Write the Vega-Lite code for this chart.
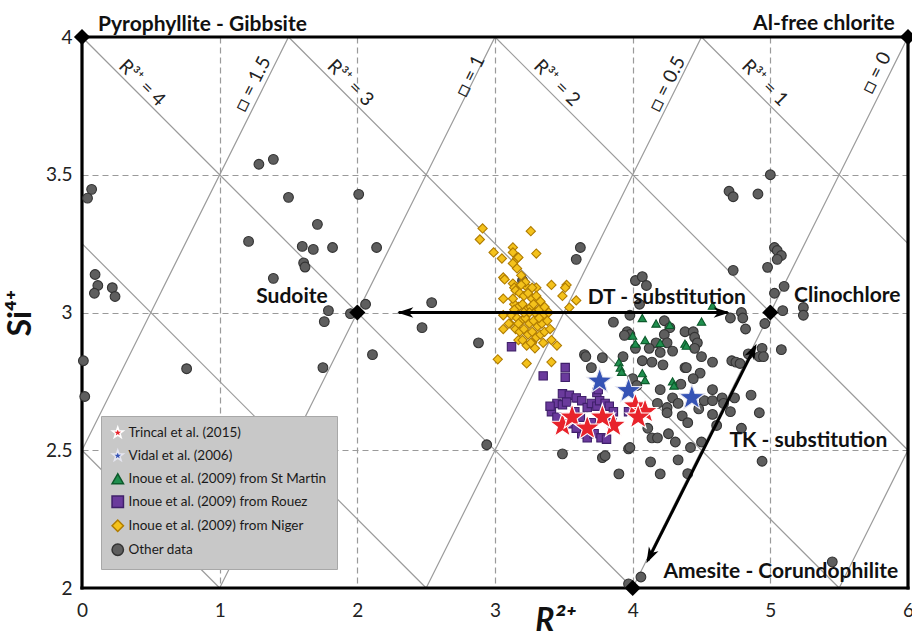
{
  "$schema": "https://vega.github.io/schema/vega-lite/v6.json",
  "width": 826,
  "height": 551,
  "autosize": {"type": "none"},
  "padding": {"left": 82, "top": 37, "right": 4, "bottom": 48},
  "background": "white",
  "config": {"view": {"stroke": null}, "font": "Lato"},
  "datasets": {
    "frame": [
      {"x": 0, "y": 4, "x2": 6, "y2": 4},
      {"x": 0, "y": 2, "x2": 6, "y2": 2},
      {"x": 0, "y": 2, "x2": 0, "y2": 4},
      {"x": 6, "y": 2, "x2": 6, "y2": 4}
    ],
    "diag": [
      {"x": 4.5, "y": 4, "x2": 6, "y2": 3.25},
      {"x": 3, "y": 4, "x2": 6, "y2": 2.5},
      {"x": 1.5, "y": 4, "x2": 5.5, "y2": 2},
      {"x": 0, "y": 4, "x2": 4, "y2": 2},
      {"x": 0, "y": 3.25, "x2": 2.5, "y2": 2},
      {"x": 0, "y": 2.5, "x2": 1, "y2": 2},
      {"x": 4, "y": 2, "x2": 6, "y2": 4},
      {"x": 2.5, "y": 2, "x2": 4.5, "y2": 4},
      {"x": 1, "y": 2, "x2": 3, "y2": 4},
      {"x": 0, "y": 2.5, "x2": 1.5, "y2": 4},
      {"x": 5.5, "y": 2, "x2": 6, "y2": 2.5}
    ],
    "arrows": [
      {"x": 2.3, "y": 3.0, "x2": 4.69, "y2": 3.0},
      {"x": 4.11, "y": 2.1, "x2": 4.89, "y2": 2.877}
    ],
    "heads": [
      {"x": 2.29, "y": 3.0, "dir": 270},
      {"x": 4.705, "y": 3.0, "dir": 90},
      {"x": 4.9, "y": 2.887, "dir": 26.7},
      {"x": 4.1, "y": 2.09, "dir": 206.7}
    ],
    "ends": [
      {"x": 0, "y": 4}, {"x": 6, "y": 4}, {"x": 2, "y": 3}, {"x": 5, "y": 3}, {"x": 4, "y": 2}
    ],
    "names": [
      {"t": "Pyrophyllite - Gibbsite", "x": 0.875, "y": 4.022},
      {"t": "Al-free chlorite", "x": 5.389, "y": 4.025},
      {"t": "Sudoite", "x": 1.525, "y": 3.034},
      {"t": "Clinochlore", "x": 5.559, "y": 3.038},
      {"t": "Amesite - Corundophilite", "x": 5.076, "y": 2.036},
      {"t": "DT - substitution", "x": 4.248, "y": 3.03},
      {"t": "TK - substitution", "x": 5.276, "y": 2.512}
    ],
    "rlab": [
      {"t": "R³⁺ = 4", "x": 0.436, "y": 3.833},
      {"t": "R³⁺ = 3", "x": 1.95, "y": 3.833},
      {"t": "R³⁺ = 2", "x": 3.45, "y": 3.833},
      {"t": "R³⁺ = 1", "x": 4.96, "y": 3.833}
    ],
    "vlab": [
      {"t": "□ = 1.5", "x": 1.24, "y": 3.83},
      {"t": "□ = 1", "x": 2.82, "y": 3.858},
      {"t": "□ = 0.5", "x": 4.25, "y": 3.83},
      {"t": "□ = 0", "x": 5.77, "y": 3.87}
    ],
    "pts": [
      {"g":"O","x":0.07,"y":3.447},{"g":"O","x":0.04,"y":3.415},{"g":"O","x":1.285,"y":3.538},{"g":"O","x":1.39,"y":3.556},{"g":"O","x":1.5,"y":3.418},{"g":"O","x":2.01,"y":3.429},{"g":"O","x":1.71,"y":3.32},{"g":"O","x":1.21,"y":3.258},{"g":"O","x":1.6,"y":3.24},{"g":"O","x":1.68,"y":3.229},{"g":"O","x":1.82,"y":3.236},{"g":"O","x":2.14,"y":3.236},{"g":"O","x":1.61,"y":3.18},{"g":"O","x":1.62,"y":3.165},{"g":"O","x":1.39,"y":3.124},{"g":"O","x":0.095,"y":3.138},{"g":"O","x":0.115,"y":3.098},{"g":"O","x":0.09,"y":3.07},{"g":"O","x":0.22,"y":3.09},{"g":"O","x":0.24,"y":3.058},{"g":"O","x":1.79,"y":3.007},{"g":"O","x":1.76,"y":2.967},{"g":"O","x":1.95,"y":2.996},{"g":"O","x":2.06,"y":3.03},{"g":"O","x":2.11,"y":2.847},{"g":"O","x":1.75,"y":2.8},{"g":"O","x":0.76,"y":2.796},{"g":"O","x":0.01,"y":2.825},{"g":"O","x":0.02,"y":2.695},{"g":"O","x":2.54,"y":3.036},{"g":"O","x":2.47,"y":2.945},{"g":"O","x":2.94,"y":2.52},
      {"g":"O","x":2.88,"y":2.89},{"g":"O","x":3.2,"y":3.116},{"g":"O","x":3.62,"y":3.236},{"g":"O","x":3.59,"y":3.193},{"g":"O","x":3.65,"y":2.847},{"g":"O","x":3.78,"y":2.836},{"g":"O","x":3.7,"y":2.8},{"g":"O","x":3.49,"y":2.487},{"g":"O","x":3.78,"y":2.473},{"g":"O","x":3.8,"y":2.48},{"g":"O","x":3.97,"y":2.505},{"g":"O","x":3.9,"y":2.414},
      {"g":"O","x":5.0,"y":3.5},{"g":"O","x":4.7,"y":3.44},{"g":"O","x":4.73,"y":3.42},{"g":"O","x":4.91,"y":3.43},{"g":"O","x":5.03,"y":3.236},{"g":"O","x":5.05,"y":3.225},{"g":"O","x":5.08,"y":3.207},{"g":"O","x":5.05,"y":3.193},{"g":"O","x":4.98,"y":3.164},{"g":"O","x":4.73,"y":3.153},{"g":"O","x":5.1,"y":3.095},{"g":"O","x":5.03,"y":3.07},{"g":"O","x":4.02,"y":3.116},{"g":"O","x":4.07,"y":3.13},{"g":"O","x":4.1,"y":3.098},{"g":"O","x":4.05,"y":3.03},{"g":"O","x":3.98,"y":2.99},{"g":"O","x":3.86,"y":2.965},{"g":"O","x":4.23,"y":2.97},{"g":"O","x":4.27,"y":2.945},{"g":"O","x":4.38,"y":2.93},{"g":"O","x":4.44,"y":2.93},{"g":"O","x":4.45,"y":2.91},{"g":"O","x":4.47,"y":2.89},{"g":"O","x":4.79,"y":3.0},{"g":"O","x":4.8,"y":2.98},{"g":"O","x":4.82,"y":2.94},{"g":"O","x":4.71,"y":2.98},{"g":"O","x":4.96,"y":2.96},{"g":"O","x":3.96,"y":2.93},{"g":"O","x":3.98,"y":2.92},{"g":"O","x":4.17,"y":2.89},{"g":"O","x":4.23,"y":2.92},{"g":"O","x":4.25,"y":2.89},{"g":"O","x":5.24,"y":3.018},{"g":"O","x":5.24,"y":2.99},{"g":"O","x":5.09,"y":3.007},{"g":"O","x":4.94,"y":2.87},{"g":"O","x":4.92,"y":2.84},{"g":"O","x":4.95,"y":2.84},{"g":"O","x":4.84,"y":2.85},{"g":"O","x":5.08,"y":2.865},{"g":"O","x":4.45,"y":2.87},{"g":"O","x":4.5,"y":2.84},{"g":"O","x":4.58,"y":2.82},{"g":"O","x":4.72,"y":2.825},{"g":"O","x":4.75,"y":2.82},{"g":"O","x":4.78,"y":2.815},{"g":"O","x":4.38,"y":2.8},{"g":"O","x":4.49,"y":2.78},{"g":"O","x":4.44,"y":2.76},{"g":"O","x":4.58,"y":2.72},{"g":"O","x":4.52,"y":2.68},{"g":"O","x":4.58,"y":2.68},{"g":"O","x":4.65,"y":2.69},{"g":"O","x":4.66,"y":2.67},{"g":"O","x":4.74,"y":2.69},{"g":"O","x":4.71,"y":2.64},{"g":"O","x":4.92,"y":2.636},{"g":"O","x":4.58,"y":2.63},{"g":"O","x":4.79,"y":2.58},{"g":"O","x":4.61,"y":2.59},{"g":"O","x":4.5,"y":2.53},{"g":"O","x":4.42,"y":2.51},{"g":"O","x":4.94,"y":2.46},{"g":"O","x":4.4,"y":2.415},{"g":"O","x":5.45,"y":2.095},{"g":"O","x":3.93,"y":2.84},{"g":"O","x":4.07,"y":2.825},{"g":"O","x":4.14,"y":2.82},{"g":"O","x":4.22,"y":2.81},{"g":"O","x":4.39,"y":2.8},{"g":"O","x":4.29,"y":2.86},{"g":"O","x":4.2,"y":2.855},{"g":"O","x":4.0,"y":2.76},{"g":"O","x":4.03,"y":2.735},{"g":"O","x":4.18,"y":2.67},{"g":"O","x":4.25,"y":2.655},{"g":"O","x":4.25,"y":2.636},{"g":"O","x":4.29,"y":2.69},{"g":"O","x":4.33,"y":2.67},{"g":"O","x":4.36,"y":2.625},{"g":"O","x":4.11,"y":2.58},{"g":"O","x":4.14,"y":2.545},{"g":"O","x":4.26,"y":2.56},{"g":"O","x":3.98,"y":2.51},{"g":"O","x":4.18,"y":2.545},{"g":"O","x":4.31,"y":2.53},{"g":"O","x":4.13,"y":2.458},{"g":"O","x":4.2,"y":2.414},{"g":"O","x":4.33,"y":2.465},{"g":"O","x":4.4,"y":2.6},{"g":"O","x":3.94,"y":2.917},{"g":"O","x":4.02,"y":2.87},{"g":"O","x":3.97,"y":2.015},{"g":"O","x":4.06,"y":2.04},{"g":"O","x":3.66,"y":2.84},{"g":"O","x":4.12,"y":2.87},{"g":"O","x":4.35,"y":2.74},{"g":"O","x":4.2,"y":2.72},{"g":"O","x":4.48,"y":2.65},{"g":"O","x":4.86,"y":2.7},
      {"g":"N","x":2.91,"y":3.305},{"g":"N","x":2.89,"y":3.265},{"g":"N","x":3.26,"y":3.295},{"g":"N","x":2.99,"y":3.218},{"g":"N","x":3.05,"y":3.196},{"g":"N","x":3.13,"y":3.236},{"g":"N","x":3.13,"y":3.218},{"g":"N","x":3.3,"y":3.214},{"g":"N","x":3.16,"y":3.196},{"g":"N","x":3.17,"y":3.2},{"g":"N","x":3.13,"y":3.178},{"g":"N","x":3.16,"y":3.16},{"g":"N","x":3.19,"y":3.135},{"g":"N","x":3.06,"y":3.127},{"g":"N","x":3.07,"y":3.12},{"g":"N","x":3.13,"y":3.105},{"g":"N","x":3.14,"y":3.09},{"g":"N","x":3.22,"y":3.098},{"g":"N","x":3.3,"y":3.09},{"g":"N","x":3.41,"y":3.1},{"g":"N","x":3.52,"y":3.1},{"g":"N","x":3.51,"y":3.09},{"g":"N","x":3.49,"y":3.06},{"g":"N","x":3.59,"y":3.044},{"g":"N","x":3.54,"y":3.018},{"g":"N","x":3.06,"y":3.05},{"g":"N","x":3.06,"y":2.99},{"g":"N","x":3.06,"y":2.94},{"g":"N","x":3.11,"y":2.96},{"g":"N","x":3.17,"y":2.9},{"g":"N","x":3.27,"y":2.89},{"g":"N","x":3.35,"y":2.89},{"g":"N","x":3.41,"y":2.9},{"g":"N","x":3.45,"y":2.88},{"g":"N","x":3.02,"y":2.83},{"g":"N","x":3.23,"y":2.815},{"g":"N","x":3.41,"y":2.82},
      {"g":"N","x":3.15,"y":3.08},{"g":"N","x":3.18,"y":3.07},{"g":"N","x":3.21,"y":3.06},{"g":"N","x":3.24,"y":3.07},{"g":"N","x":3.27,"y":3.05},{"g":"N","x":3.3,"y":3.06},{"g":"N","x":3.33,"y":3.04},{"g":"N","x":3.14,"y":3.03},{"g":"N","x":3.17,"y":3.02},{"g":"N","x":3.2,"y":3.03},{"g":"N","x":3.23,"y":3.01},{"g":"N","x":3.26,"y":3.02},{"g":"N","x":3.29,"y":3.0},{"g":"N","x":3.32,"y":3.01},{"g":"N","x":3.35,"y":2.99},{"g":"N","x":3.12,"y":2.99},{"g":"N","x":3.16,"y":2.98},{"g":"N","x":3.19,"y":2.97},{"g":"N","x":3.22,"y":2.98},{"g":"N","x":3.25,"y":2.96},{"g":"N","x":3.28,"y":2.97},{"g":"N","x":3.31,"y":2.95},{"g":"N","x":3.34,"y":2.96},{"g":"N","x":3.38,"y":2.97},{"g":"N","x":3.15,"y":2.94},{"g":"N","x":3.18,"y":2.93},{"g":"N","x":3.21,"y":2.94},{"g":"N","x":3.24,"y":2.92},{"g":"N","x":3.27,"y":2.93},{"g":"N","x":3.3,"y":2.91},{"g":"N","x":3.33,"y":2.92},{"g":"N","x":3.36,"y":2.93},{"g":"N","x":3.2,"y":2.9},{"g":"N","x":3.23,"y":2.88},{"g":"N","x":3.26,"y":2.89},{"g":"N","x":3.29,"y":2.87},{"g":"N","x":3.13,"y":3.05},{"g":"N","x":3.27,"y":3.09},{"g":"N","x":3.22,"y":3.11},{"g":"N","x":3.19,"y":3.1},{"g":"N","x":3.36,"y":3.02},{"g":"N","x":3.39,"y":3.0},{"g":"N","x":3.1,"y":2.96},{"g":"N","x":3.4,"y":2.94},{"g":"N","x":3.17,"y":2.96},{"g":"N","x":3.25,"y":3.0},{"g":"N","x":3.21,"y":3.0},{"g":"N","x":3.28,"y":3.03},{"g":"N","x":3.32,"y":2.98},{"g":"N","x":3.14,"y":3.01},
      {"g":"R","x":3.12,"y":2.876},{"g":"R","x":3.35,"y":2.77},{"g":"R","x":3.51,"y":2.8},{"g":"R","x":3.51,"y":2.765},{"g":"R","x":3.74,"y":2.71},{"g":"R","x":3.49,"y":2.705},{"g":"R","x":3.54,"y":2.7},{"g":"R","x":3.59,"y":2.69},{"g":"R","x":3.63,"y":2.68},{"g":"R","x":3.45,"y":2.67},{"g":"R","x":3.41,"y":2.64},{"g":"R","x":3.49,"y":2.665},{"g":"R","x":3.52,"y":2.675},{"g":"R","x":3.67,"y":2.655},{"g":"R","x":3.7,"y":2.67},{"g":"R","x":3.74,"y":2.66},{"g":"R","x":3.76,"y":2.68},{"g":"R","x":3.8,"y":2.67},{"g":"R","x":3.83,"y":2.66},{"g":"R","x":3.86,"y":2.64},{"g":"R","x":3.63,"y":2.56},{"g":"R","x":3.67,"y":2.545},{"g":"R","x":3.72,"y":2.56},{"g":"R","x":3.77,"y":2.545},{"g":"R","x":3.81,"y":2.54},{"g":"R","x":3.54,"y":2.596},{"g":"R","x":3.59,"y":2.58},{"g":"R","x":3.75,"y":2.72},{"g":"R","x":3.97,"y":2.64},{"g":"R","x":3.45,"y":2.62},{"g":"R","x":3.58,"y":2.64},{"g":"R","x":3.62,"y":2.62},{"g":"R","x":3.7,"y":2.6},{"g":"R","x":3.85,"y":2.6},{"g":"R","x":3.4,"y":2.66},
      {"g":"S","x":4.58,"y":3.025},{"g":"S","x":4.07,"y":2.98},{"g":"S","x":4.17,"y":2.96},{"g":"S","x":4.27,"y":2.955},{"g":"S","x":4.5,"y":2.967},{"g":"S","x":4.0,"y":2.916},{"g":"S","x":4.02,"y":2.887},{"g":"S","x":4.09,"y":2.9},{"g":"S","x":4.2,"y":2.89},{"g":"S","x":4.38,"y":2.887},{"g":"S","x":3.9,"y":2.82},{"g":"S","x":3.91,"y":2.8},{"g":"S","x":4.07,"y":2.78},{"g":"S","x":4.09,"y":2.755},{"g":"S","x":4.29,"y":2.75},{"g":"S","x":4.3,"y":2.735},{"g":"S","x":4.39,"y":2.88},{"g":"S","x":3.92,"y":2.785},
      {"g":"V","x":3.76,"y":2.75},{"g":"V","x":3.97,"y":2.716},{"g":"V","x":4.43,"y":2.69},
      {"g":"T","x":3.49,"y":2.59},{"g":"T","x":3.86,"y":2.59},{"g":"T","x":4.02,"y":2.66},{"g":"T","x":4.09,"y":2.64},{"g":"T","x":3.56,"y":2.62},{"g":"T","x":3.78,"y":2.62},{"g":"T","x":3.67,"y":2.58},{"g":"T","x":4.04,"y":2.62}
    ]
  },
  "encoding": {
    "x": {
      "field": "x", "type": "quantitative",
      "scale": {"domain": [0, 6], "nice": false, "zero": false},
      "axis": {
        "title": "R²⁺", "values": [0, 1, 2, 3, 4, 5, 6], "format": "~g",
        "grid": true, "gridColor": "#9a9a9a", "gridDash": [6, 4], "gridWidth": 1.2,
        "ticks": false, "domain": false, "labelFlush": false,
        "labelFontSize": 19, "labelColor": "#222", "labelPadding": 13, "labelFont": "Lato",
        "titleFont": "Lato", "titleFontSize": 32, "titleFontWeight": "bold", "titleFontStyle": "italic",
        "titleColor": "#111", "titleX": 473, "titleY": 42, "titleBaseline": "alphabetic"
      }
    },
    "y": {
      "field": "y", "type": "quantitative",
      "scale": {"domain": [2, 4], "nice": false, "zero": false},
      "axis": {
        "title": "Si⁴⁺", "values": [2, 2.5, 3, 3.5, 4], "format": "~g",
        "grid": true, "gridColor": "#9a9a9a", "gridDash": [6, 4], "gridWidth": 1.2,
        "ticks": false, "domain": false, "labelFlush": false,
        "labelFontSize": 19, "labelColor": "#222", "labelPadding": 10, "labelFont": "Lato",
        "titleFont": "Lato", "titleFontSize": 32, "titleFontWeight": "bold",
        "titleColor": "#111", "titlePadding": 8
      }
    }
  },
  "layer": [
    {"data": {"name": "diag"}, "mark": {"type": "rule", "color": "#9a9a9a", "strokeWidth": 1.2},
     "encoding": {"x2": {"field": "x2"}, "y2": {"field": "y2"}}},
    {"data": {"name": "frame"}, "mark": {"type": "rule", "color": "#000", "strokeWidth": 3.2, "strokeCap": "square"},
     "encoding": {"x2": {"field": "x2"}, "y2": {"field": "y2"}}},
    {"data": {"name": "rlab"}, "mark": {"type": "text", "angle": 45, "fontSize": 19, "font": "Lato", "color": "#222", "align": "center", "baseline": "middle"},
     "encoding": {"text": {"field": "t"}}},
    {"data": {"name": "vlab"}, "mark": {"type": "text", "angle": 296.6, "fontSize": 19, "font": "Lato", "color": "#222", "align": "center", "baseline": "middle"},
     "encoding": {"text": {"field": "t"}}},
    {"data": {"name": "pts"}, "mark": {"type": "point", "filled": true, "opacity": 1, "strokeWidth": 1.1},
     "encoding": {
       "color": {"field": "g", "type": "nominal",
         "scale": {"domain": ["T", "V", "S", "R", "N", "O"], "range": ["#e8232b", "#3553b5", "#1f8f4e", "#6a3a9c", "#f4c21b", "#5e5e5e"]},
         "legend": {"title": null, "orient": "bottom-left", "offset": 19, "fillColor": "#c8c8c8", "strokeColor": "#a8a8a8", "padding": 10,
           "labelFontSize": 13.5, "labelFont": "Lato", "labelColor": "#1a1a1a", "symbolSize": 130, "rowPadding": 6, "labelLimit": 400,
           "labelExpr": "datum.label == 'T' ? 'Trincal et al. (2015)' : datum.label == 'V' ? 'Vidal et al. (2006)' : datum.label == 'S' ? 'Inoue et al. (2009) from St Martin' : datum.label == 'R' ? 'Inoue et al. (2009) from Rouez' : datum.label == 'N' ? 'Inoue et al. (2009) from Niger' : 'Other data'"}},
       "shape": {"field": "g", "type": "nominal",
         "scale": {"domain": ["T", "V", "S", "R", "N", "O"], "range": ["M0,-1L0.235,-0.324L0.951,-0.309L0.38,0.124L0.588,0.809L0,0.4L-0.588,0.809L-0.38,0.124L-0.951,-0.309L-0.235,-0.324Z", "M0,-1L0.235,-0.324L0.951,-0.309L0.38,0.124L0.588,0.809L0,0.4L-0.588,0.809L-0.38,0.124L-0.951,-0.309L-0.235,-0.324Z", "triangle-up", "square", "diamond", "circle"]},
         "legend": {"title": null, "orient": "bottom-left", "offset": 19, "fillColor": "#c8c8c8", "strokeColor": "#a8a8a8", "padding": 10,
           "labelFontSize": 13.5, "labelFont": "Lato", "labelColor": "#1a1a1a", "symbolSize": 130, "rowPadding": 6, "labelLimit": 400,
           "labelExpr": "datum.label == 'T' ? 'Trincal et al. (2015)' : datum.label == 'V' ? 'Vidal et al. (2006)' : datum.label == 'S' ? 'Inoue et al. (2009) from St Martin' : datum.label == 'R' ? 'Inoue et al. (2009) from Rouez' : datum.label == 'N' ? 'Inoue et al. (2009) from Niger' : 'Other data'"}},
       "size": {"condition": [
           {"test": "datum.g == 'T' || datum.g == 'V'", "value": 720},
           {"test": "datum.g == 'S' || datum.g == 'R'", "value": 70},
           {"test": "datum.g == 'N'", "value": 85}
         ], "value": 95},
       "stroke": {"field": "g", "type": "nominal",
         "scale": {"domain": ["T", "V", "S", "R", "N", "O"], "range": ["#ffffff", "#e6e6f0", "#0c5a2b", "#3f1f6a", "#b07c00", "#333333"]}, "legend": null}
     }},
    {"data": {"name": "arrows"}, "mark": {"type": "rule", "color": "#000", "strokeWidth": 3},
     "encoding": {"x2": {"field": "x2"}, "y2": {"field": "y2"}}},
    {"data": {"name": "heads"}, "mark": {"type": "point", "filled": true, "color": "#000", "opacity": 1, "size": 320, "shape": "M0,0L0.6,1.8L0,1.3L-0.6,1.8Z"},
     "encoding": {"angle": {"field": "dir", "type": "quantitative", "scale": null}}},
    {"data": {"name": "ends"}, "mark": {"type": "point", "filled": true, "color": "#000", "opacity": 1, "size": 260, "shape": "diamond"}},
    {"data": {"name": "names"}, "mark": {"type": "text", "fontSize": 21, "font": "Lato", "fontWeight": "bold", "color": "#111", "align": "center", "baseline": "alphabetic"},
     "encoding": {"text": {"field": "t"}}}
  ]
}
